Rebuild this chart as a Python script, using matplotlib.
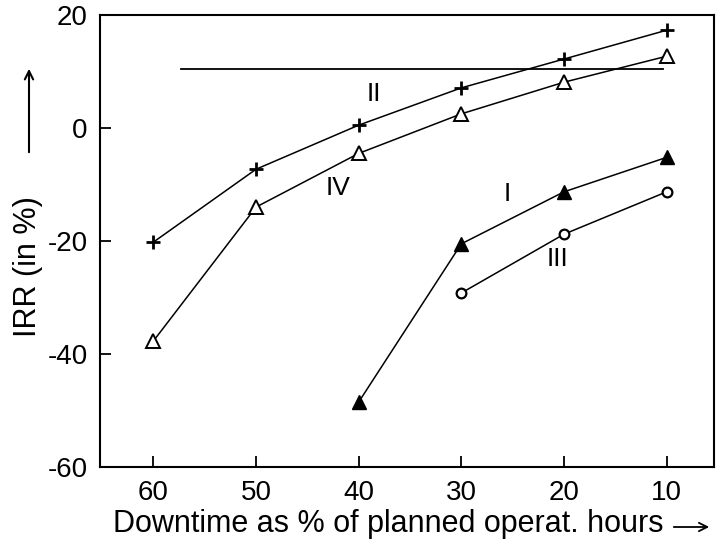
import matplotlib
matplotlib.use('Agg')
import matplotlib.pyplot as plt

plt.rcParams['font.family'] = ['Liberation Sans', 'DejaVu Sans']
plt.rcParams['axes.unicode_minus'] = False

# curve II (+)
x_II = [60, 50, 40, 30, 20, 10]
y_II = [-20.2, -7.3, 0.5, 7.1, 12.2, 17.3]
# curve IV (open triangles)
x_IV = [60, 50, 40, 30, 20, 10]
y_IV = [-37.7, -14.0, -4.5, 2.5, 8.1, 12.7]
# curve I (filled triangles)
x_I = [40, 30, 20, 10]
y_I = [-48.5, -20.5, -11.3, -5.2]
# curve III (open circles)
x_III = [30, 20, 10]
y_III = [-29.2, -18.8, -11.3]
# horizontal reference line
ref_x = [57.3, 10.4]
ref_y = [10.4, 10.4]

xticks = [60, 50, 40, 30, 20, 10]
yticks = [-60, -40, -20, 0, 20]

curve_labels = ['II', 'IV', 'I', 'III']
label_x = [38.5, 42.0, 25.5, 20.6]
label_y = [6.0, -10.6, -11.6, -23.2]

fig = plt.figure(figsize=(7.16, 5.44), dpi=100)
ax = fig.add_axes([0.1397, 0.1415, 0.8573, 0.8310])

ax.plot(ref_x, ref_y, color='black', lw=1.3)
ax.plot(x_II, y_II, color='black', lw=1.1, marker='+', ms=10, mew=2.0)
ax.plot(x_IV, y_IV, color='black', lw=1.1, marker='^', ms=10, mew=1.4,
        markerfacecolor='white')
ax.plot(x_I, y_I, color='black', lw=1.1, marker='^', ms=10, mew=1.0,
        markerfacecolor='black')
ax.plot(x_III, y_III, color='black', lw=1.1, marker='o', ms=7, mew=1.6,
        markerfacecolor='white')

for lab, lx, ly in zip(curve_labels, label_x, label_y):
    ax.text(lx, ly, lab, fontsize=19, ha='center', va='center')

ax.set_xlim(65.2, 5.4)
ax.set_ylim(-60, 20)
ax.set_xticks(xticks)
ax.set_yticks(yticks)
ax.tick_params(direction='in', length=8, width=1.3, labelsize=20, pad=9)
for sp in ax.spines.values():
    sp.set_linewidth(1.5)

# axis titles with arrows
fig.text(28 / 716, 1 - 267 / 544, 'IRR (in %)', rotation=90, fontsize=22,
         ha='center', va='center')
ax.annotate('', xy=(29 / 716, 1 - 66 / 544), xytext=(29 / 716, 1 - 155 / 544),
            xycoords='figure fraction', textcoords='figure fraction',
            arrowprops=dict(arrowstyle='->', lw=1.5, color='black',
                            mutation_scale=15))
fig.text(388 / 716, 1 - 524 / 544, 'Downtime as % of planned operat. hours',
         fontsize=22, ha='center', va='center')
ax.annotate('', xy=(712 / 716, 1 - 527 / 544), xytext=(671 / 716, 1 - 527 / 544),
            xycoords='figure fraction', textcoords='figure fraction',
            arrowprops=dict(arrowstyle='->', lw=1.3, color='black',
                            mutation_scale=15))

fig.savefig('out.png', dpi=100)
